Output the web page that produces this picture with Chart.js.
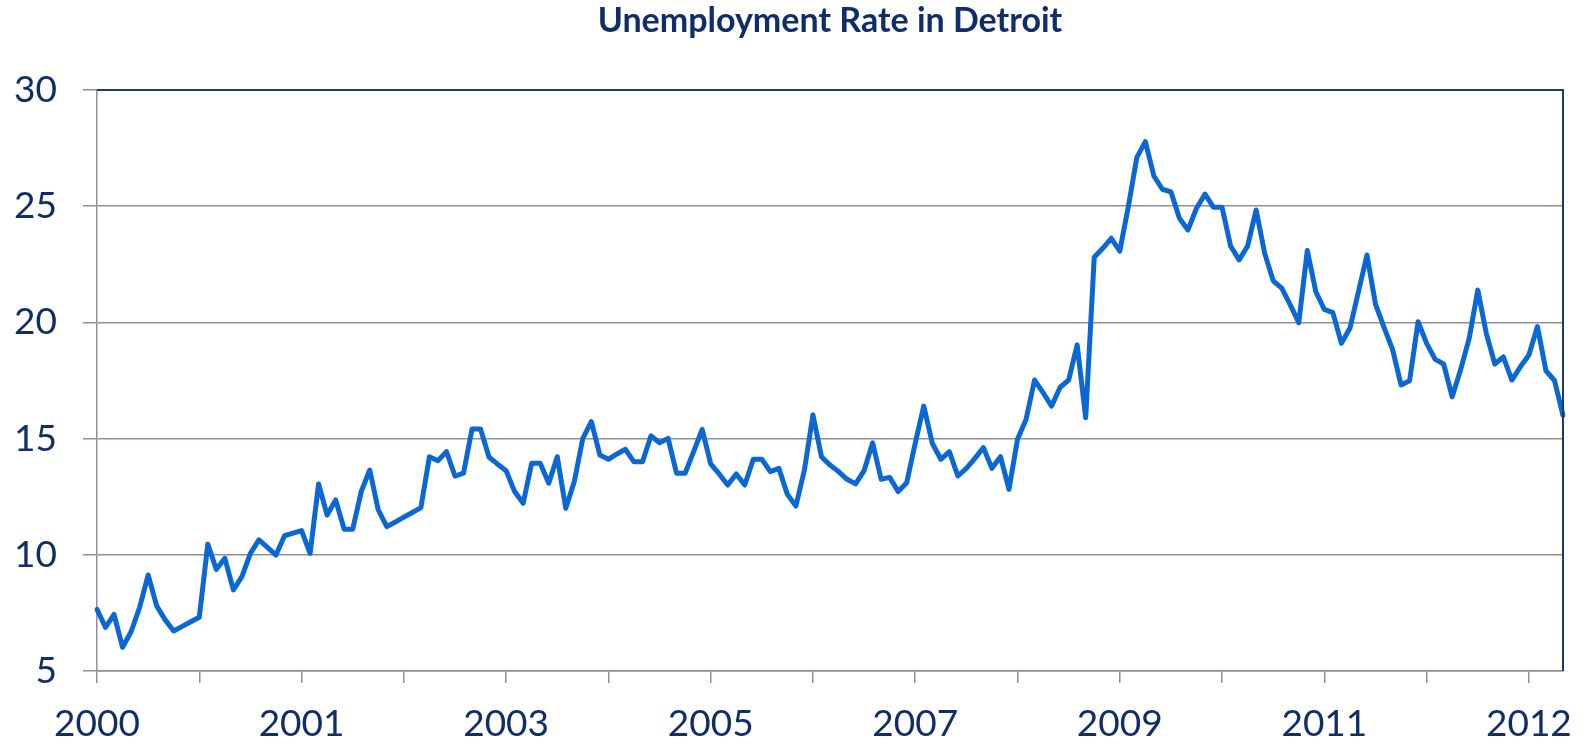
<!DOCTYPE html>
<html>
<head>
<meta charset="utf-8">
<script src="https://cdn.jsdelivr.net/npm/chart.js@4"></script>
<style>
  html, body { margin: 0; padding: 0; background: #fff; }
  #wrap { width: 1587px; height: 748px; }
</style>
</head>
<body>
<div id="wrap"><canvas id="lineChart" width="1587" height="748"></canvas></div>
<script>
// monthly unemployment rate
var rate = [
  7.65, 6.88, 7.44, 6.02, 6.69, 7.74, 9.13, 7.80, 7.2, 6.72, 6.92, 7.12,
  7.31, 10.46, 9.37, 9.85, 8.49, 9.06, 10.06, 10.64, 10.32, 9.99, 10.82, 10.93,
  11.04, 10.06, 13.05, 11.71, 12.36, 11.10, 11.10, 12.72, 13.65, 11.93, 11.21, 11.41,
  11.62, 11.82, 12.03, 14.22, 14.05, 14.44, 13.39, 13.51, 15.41, 15.41, 14.2, 13.9,
  13.62, 12.72, 12.22, 13.94, 13.94, 13.08, 14.22, 12.0, 13.15, 15.01, 15.73, 14.29,
  14.11, 14.34, 14.54, 14.0, 14.0, 15.12, 14.82, 15.01, 13.51, 13.51, 14.44, 15.4,
  13.91, 13.48, 13.0, 13.48, 13.0, 14.11, 14.11, 13.58, 13.72, 12.6, 12.1, 13.65,
  16.02, 14.22, 13.86, 13.58, 13.25, 13.05, 13.62, 14.82, 13.25, 13.33, 12.72, 13.10,
  14.8, 16.4, 14.8, 14.11, 14.44, 13.39, 13.72, 14.15, 14.61, 13.72, 14.22, 12.82,
  14.97, 15.82, 17.52, 16.98, 16.4, 17.21, 17.52, 19.03, 15.9, 22.8, 23.19, 23.62,
  23.07, 24.98, 27.1, 27.78, 26.3, 25.73, 25.62, 24.48, 23.98, 24.91, 25.52, 24.95,
  24.95, 23.29, 22.69, 23.29, 24.84, 22.97, 21.79, 21.47, 20.75, 19.99, 23.09, 21.32,
  20.56, 20.42, 19.1, 19.75, 21.32, 22.9, 20.79, 19.79, 18.84, 17.31, 17.49, 20.03,
  19.1, 18.41, 18.21, 16.8, 17.98, 19.32, 21.39, 19.53, 18.21, 18.52, 17.52, 18.09,
  18.6, 19.82, 17.92, 17.5, 16.0
];
var yearLabels = ["2000", "2001", "2003", "2005", "2007", "2009", "2011", "2012"];
var labelEvery = 24;   // a year label every 24 months
var tickEvery = 12;    // a tick mark every 12 months

var months = [];
for (var i = 0; i < rate.length; i++) {
  months.push(i % labelEvery === 0 ? (yearLabels[i / labelEvery] || "") : "");
}

var navy = "#0f2d69";
var gray = "#8f8fa0";

// navy frame on top and right of the plot area
var frame = {
  id: "frame",
  afterDraw: function (chart) {
    var a = chart.chartArea;
    var c = chart.ctx;
    c.save();
    c.strokeStyle = "#1c3a6e";
    c.lineWidth = 2;
    c.beginPath();
    c.moveTo(a.left, a.top);
    c.lineTo(a.right, a.top);
    c.lineTo(a.right, a.bottom);
    c.stroke();
    c.restore();
  }
};

var ctx = document.getElementById("lineChart").getContext("2d");
var myChart = new Chart(ctx, {
  type: "line",
  data: {
    labels: months,
    datasets: [{
      data: rate,
      borderColor: "#0a67d4",
      borderWidth: 5,
      borderJoinStyle: "round",
      borderCapStyle: "round",
      pointRadius: 0,
      tension: 0,
      fill: false
    }]
  },
  options: {
    responsive: false,
    animation: false,
    layout: { padding: { left: 0, right: 24, top: 0, bottom: 0 } },
    plugins: {
      legend: { display: false },
      tooltip: { enabled: false },
      title: {
        display: true,
        fullSize: false,
        text: "Unemployment Rate in Detroit",
        color: navy,
        font: { family: "Lato", size: 34, weight: "bold" },
        padding: { top: 1, bottom: 48.2 }
      }
    },
    scales: {
      x: {
        type: "category",
        offset: false,
        afterFit: function (scale) { scale.height = 77; },
        border: { color: gray, width: 1.5 },
        grid: {
          drawOnChartArea: false,
          drawTicks: true,
          tickLength: 12,
          lineWidth: 1.5,
          color: function (c) { return c.index % tickEvery === 0 ? gray : "rgba(0,0,0,0)"; }
        },
        ticks: {
          autoSkip: false,
          maxRotation: 0,
          minRotation: 0,
          padding: 19,
          color: navy,
          font: { family: "Lato", size: 37 },
          callback: function (v, idx) { return months[idx]; }
        }
      },
      y: {
        min: 5,
        max: 30,
        afterFit: function (scale) { scale.width = 97; },
        border: { color: gray, width: 1.5 },
        grid: {
          color: gray,
          lineWidth: 1.5,
          tickLength: 14
        },
        ticks: {
          stepSize: 5,
          padding: 26,
          color: navy,
          font: { family: "Lato", size: 37 }
        }
      }
    }
  },
  plugins: [frame]
});
</script>
</body>
</html>
